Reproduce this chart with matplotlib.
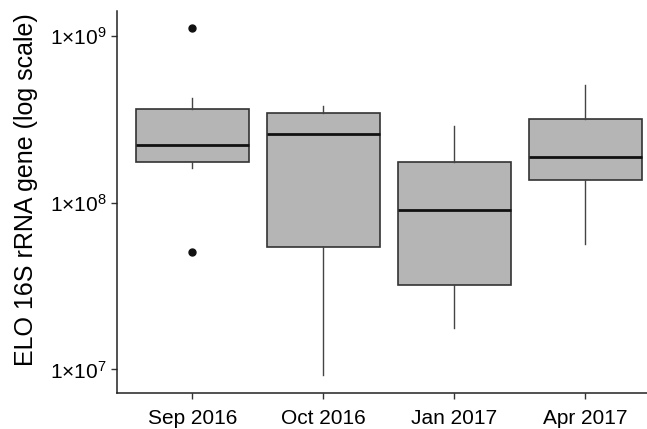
import matplotlib
matplotlib.use("Agg")
import matplotlib.pyplot as plt
from matplotlib.ticker import FixedLocator

plt.rcParams['font.family'] = ['Liberation Sans', 'DejaVu Sans']
plt.rcParams['mathtext.fontset'] = 'custom'
plt.rcParams['mathtext.rm'] = 'Liberation Sans'
plt.rcParams['mathtext.it'] = 'Liberation Sans'

categories = ["Sep 2016", "Oct 2016", "Jan 2017", "Apr 2017"]
whislo = [1.62e8, 9.25e6, 1.78e7, 5.62e7]
q1 = [1.75e8, 5.45e7, 3.22e7, 1.36e8]
med = [2.21e8, 2.60e8, 9.04e7, 1.88e8]
q3 = [3.65e8, 3.44e8, 1.75e8, 3.16e8]
whishi = [4.23e8, 3.80e8, 2.88e8, 5.08e8]
fliers = [[1.11e9, 5.08e7], [], [], []]
ytick_vals = [1e7, 1e8, 1e9]
ytick_labels = [r'$1{\times}10^{7}$', r'$1{\times}10^{8}$', r'$1{\times}10^{9}$']
ylabel = "ELO 16S rRNA gene (log scale)"

stats = []
for i, c in enumerate(categories):
    stats.append(dict(label=c, whislo=whislo[i], q1=q1[i], med=med[i],
                      q3=q3[i], whishi=whishi[i], fliers=fliers[i]))

fig = plt.figure(figsize=(6.47, 4.29), dpi=100)
ax = fig.add_axes([0.1813, 0.0832, 0.8187, 0.8911])
ax.bxp(stats, positions=range(1, 5), widths=0.86, patch_artist=True, showcaps=False,
       boxprops=dict(facecolor='#b5b5b5', edgecolor='#333333', linewidth=1.2),
       medianprops=dict(color='#111111', linewidth=2.0),
       whiskerprops=dict(color='#444444', linewidth=1.0),
       flierprops=dict(marker='o', markerfacecolor='#111111', markeredgecolor='#111111',
                       markersize=5, linestyle='none'))
ax.set_yscale('log')
ax.set_ylim(10**6.857, 10**9.15)
ax.set_xlim(0.428, 4.47)
ax.yaxis.set_major_locator(FixedLocator(ytick_vals))
ax.set_yticklabels(ytick_labels)
ax.yaxis.set_minor_locator(FixedLocator([]))
ax.set_xticks(range(1, 5))
ax.set_xticklabels(categories)
for s in ['top', 'right']:
    ax.spines[s].set_visible(False)
for s in ['left', 'bottom']:
    ax.spines[s].set_linewidth(1.1)
    ax.spines[s].set_color('#222222')
ax.tick_params(axis='both', length=4.5, width=1.0, color='#333333', labelsize=15, labelcolor='black')
ax.tick_params(axis='y', pad=3)
ax.tick_params(axis='x', pad=7)
ax.set_ylabel(ylabel, fontsize=18)
ax.yaxis.set_label_coords(-0.149, 0.532)
fig.savefig("out.png", dpi=100)
